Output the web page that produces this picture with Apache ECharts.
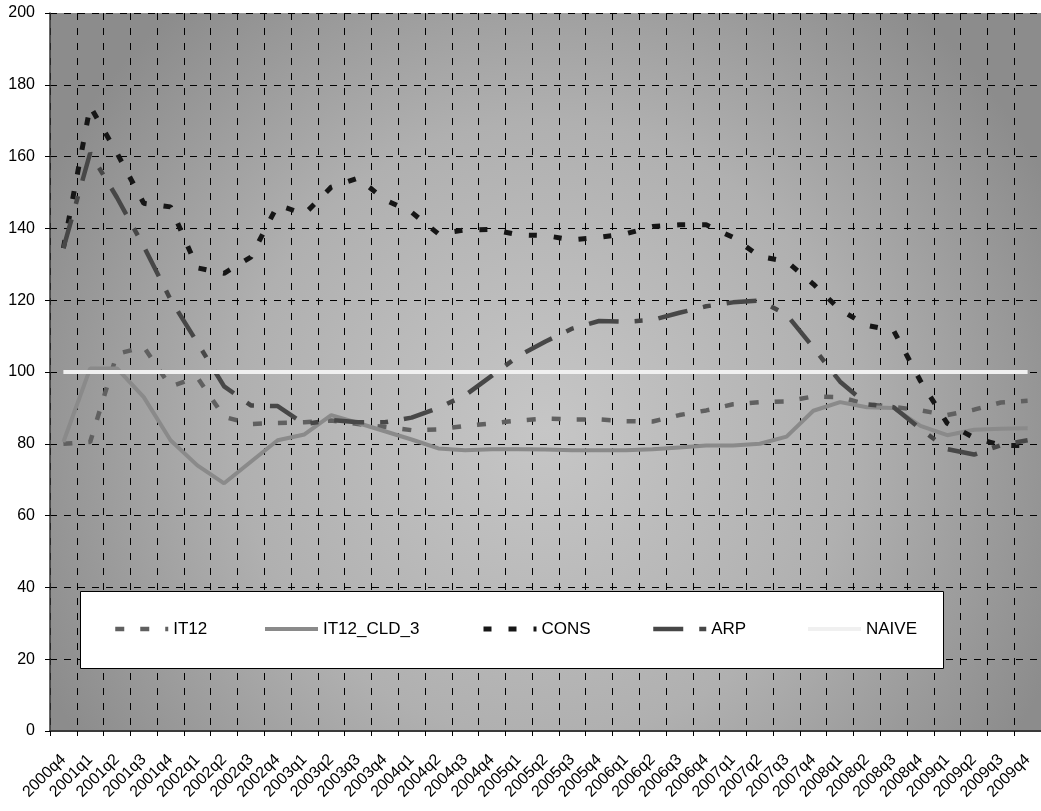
<!DOCTYPE html>
<html><head><meta charset="utf-8">
<script src="https://cdn.jsdelivr.net/npm/echarts@6/dist/echarts.min.js"></script>
<style>html,body{margin:0;padding:0;background:#fff}#c{width:1041px;height:811px}</style>
</head><body><div id="c"></div>
<script>
const categories = ['2000q4','2001q1','2001q2','2001q3','2001q4','2002q1','2002q2','2002q3','2002q4','2003q1','2003q2','2003q3','2003q4','2004q1','2004q2','2004q3','2004q4','2005q1','2005q2','2005q3','2005q4','2006q1','2006q2','2006q3','2006q4','2007q1','2007q2','2007q3','2007q4','2008q1','2008q2','2008q3','2008q4','2009q1','2009q2','2009q3','2009q4'];
const it12 = [80, 80.5, 105, 107, 96, 98.5, 87.5, 85.5, 85.8, 86, 86.5, 85.5, 84.7, 83.8, 84, 85, 85.7, 86.5, 87, 86.8, 86.8, 86.3, 86.2, 88, 89.3, 91, 91.6, 91.8, 93.2, 93, 91, 90.3, 89.3, 88, 89.5, 91.5, 92];
const it12Cld3 = [80.5, 101, 101, 93, 81, 74, 69, 75, 81, 82.6, 88, 85.8, 83.5, 81.2, 78.7, 78.2, 78.5, 78.5, 78.4, 78.2, 78.2, 78.2, 78.5, 79, 79.5, 79.5, 80, 82, 89.2, 91.6, 90.2, 90, 85, 82.4, 83.9, 84.2, 84.3];
const cons = [134.5, 174, 161, 147, 146, 129, 127.5, 132, 146.5, 144, 151.5, 154, 148, 144.5, 138.5, 139.6, 139.7, 138.2, 138, 136.8, 137.5, 138.5, 140.5, 141, 141, 137.5, 132.2, 130.8, 124.5, 117.3, 113, 111.5, 97.5, 85.7, 81.7, 79.6, 79.5];
const arp = [134.5, 161, 148.6, 135, 120.2, 108.2, 96, 90.7, 90.5, 85.5, 86.6, 86, 86, 87.3, 90, 93.5, 99, 104.5, 108.5, 112.1, 114.2, 114, 114.5, 116.5, 118.3, 119.4, 119.9, 116, 106.8, 97.3, 91, 90.2, 84.2, 78.5, 77, 79.6, 81];
const naive = [100, 100, 100, 100, 100, 100, 100, 100, 100, 100, 100, 100, 100, 100, 100, 100, 100, 100, 100, 100, 100, 100, 100, 100, 100, 100, 100, 100, 100, 100, 100, 100, 100, 100, 100, 100, 100];
const seriesNames = ['IT12', 'IT12_CLD_3', 'CONS', 'ARP', 'NAIVE'];
const yTicks = { min: 0, max: 200, interval: 20 };

const FONT = '"Liberation Sans", Arial, sans-serif';
const chart = echarts.init(document.getElementById('c'), null, { renderer: 'canvas' });

const styles = {
  'IT12': { color: '#606060', width: 4.5, type: [9, 16] },
  'IT12_CLD_3': { color: '#8a8a8a', width: 4, type: 'solid' },
  'CONS': { color: '#161616', width: 5, type: [8, 17] },
  'ARP': { color: '#474747', width: 4.5, type: [30, 16, 8, 16] },
  'NAIVE': { color: '#f0f0f0', width: 4, type: 'solid' }
};
const dataByName = { 'IT12': it12, 'IT12_CLD_3': it12Cld3, 'CONS': cons, 'ARP': arp, 'NAIVE': naive };
const legendLefts = [113, 263, 481, 651, 806];

chart.setOption({
  animation: false,
  backgroundColor: '#ffffff',
  textStyle: { fontFamily: FONT },
  grid: {
    left: 50, top: 13, width: 1001, height: 718,
    show: true, borderWidth: 0,
    backgroundColor: {
      type: 'radial', x: 0.5, y: 0.58, r: 0.78,
      colorStops: [
        { offset: 0, color: '#c6c6c6' },
        { offset: 0.55, color: '#b0b0b0' },
        { offset: 1, color: '#8c8c8c' }
      ]
    }
  },
  graphic: [{
    type: 'rect', z: 10, left: 80, top: 591,
    shape: { width: 863, height: 77 },
    style: { fill: '#ffffff', stroke: '#000000', lineWidth: 1 }
  }],
  legend: seriesNames.map((n, k) => ({
    data: [n], left: legendLefts[k], top: 619, z: 20,
    itemWidth: 53, itemHeight: 14, padding: 0,
    itemStyle: { opacity: 0, color: 'rgba(0,0,0,0)', borderWidth: 0 },
    lineStyle: { color: styles[n].color, width: styles[n].width, type: styles[n].type },
    textStyle: { fontSize: 17, color: '#000', fontFamily: FONT, lineHeight: 20 }
  })),
  xAxis: {
    type: 'category', data: categories, boundaryGap: true,
    axisLine: { show: true, lineStyle: { color: '#3a3a3a', width: 2 } },
    axisTick: { show: true, length: 5, interval: 0, lineStyle: { color: '#000', width: 1 } },
    axisLabel: { interval: 0, rotate: 45, fontSize: 16, color: '#000', margin: 26, fontFamily: FONT },
    splitLine: { show: true, interval: 0, lineStyle: { color: '#000', width: 1, type: [7, 8] } }
  },
  yAxis: {
    type: 'value', min: yTicks.min, max: yTicks.max, interval: yTicks.interval,
    axisLine: { show: true, lineStyle: { color: '#333', width: 1.5 } },
    axisTick: { show: true, length: 5, lineStyle: { color: '#000', width: 1 } },
    axisLabel: { fontSize: 16, color: '#000', margin: 15, fontFamily: FONT },
    splitLine: { show: true, lineStyle: { color: '#000', width: 1, type: [7, 7] } }
  },
  series: seriesNames.map(n => ({
    name: n, type: 'line', data: dataByName[n],
    symbol: 'none', showSymbol: false, smooth: false,
    itemStyle: { color: styles[n].color },
    lineStyle: { color: styles[n].color, width: styles[n].width, type: styles[n].type },
    emphasis: { disabled: true }
  }))
});
</script>
</body></html>
